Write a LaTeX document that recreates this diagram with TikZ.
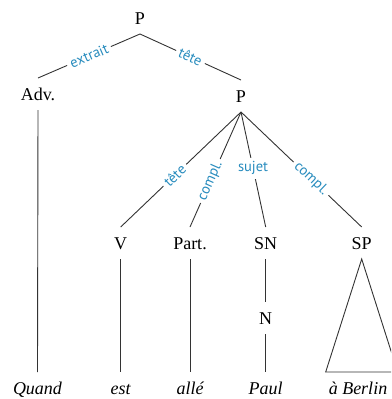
\documentclass[tikz,border=0pt]{standalone}
\usepackage{fontspec}
\setmainfont{Liberation Serif}
\newfontfamily\lblfont{PT Sans}
\definecolor{lblblue}{RGB}{40,140,190}
\begin{document}
\begin{tikzpicture}[x=1pt,y=-1pt,
  cat/.style={inner sep=0pt,outer sep=10pt,text height=12pt,text depth=0pt,font=\fontsize{18}{20}\selectfont},
  word/.style={cat,font=\fontsize{18}{20}\selectfont\itshape},
  lbl/.style={font=\lblfont\fontsize{14.5}{16}\selectfont,text=lblblue,fill=white,inner sep=3.5pt},
  branch/.style={line width=0.9pt,draw=black!80}]
\clip (0,0) rectangle (391,399);
\useasboundingbox (0,0) rectangle (391,399);
\node[cat] (P1) at (140,18) {P};
\node[cat] (Adv) at (38,94) {Adv.};
\node[cat] (P2) at (241,96) {P};
\node[cat] (V) at (120.7,243) {V};
\node[cat] (Part) at (190,243) {Part.};
\node[cat] (SN) at (265.7,243) {SN};
\node[cat] (SP) at (361.7,243) {SP};
\node[cat] (N) at (265.7,318) {N};
\node[word] (Quand) at (37.5,388) {Quand};
\node[word] (est) at (120.7,388) {est};
\node[word] (alle) at (190,388) {allé};
\node[word] (Paul) at (265.7,388) {Paul};
\node[word] (Berlin) at (358,388) {à Berlin};
\coordinate (tl) at (325.7,372);
\coordinate (tr) at (397.7,372);
\draw[branch] (P1.south) -- node[lbl,sloped] {extrait} (Adv.north);
\draw[branch] (P1.south) -- node[lbl,sloped] {tête} (P2.north);
\draw[branch] (Adv.south) -- (Quand.north);
\draw[branch] (P2.south) -- node[lbl,sloped,pos=0.55] {tête} (V.north);
\draw[branch] (P2.south) -- node[lbl,sloped,pos=0.6] {compl.} (Part.north);
\draw[branch] (P2.south) -- node[lbl,pos=0.49] {sujet} (SN.north);
\draw[branch] (P2.south) -- node[lbl,sloped,pos=0.58] {compl.} (SP.north);
\draw[branch] (V.south) -- (est.north);
\draw[branch] (Part.south) -- (alle.north);
\draw[branch] (SN.south) -- (N.north);
\draw[branch] (N.south) -- (Paul.north);
\draw[branch] (SP.south) -- (tl) -- (tr) -- cycle;
\end{tikzpicture}
\end{document}
